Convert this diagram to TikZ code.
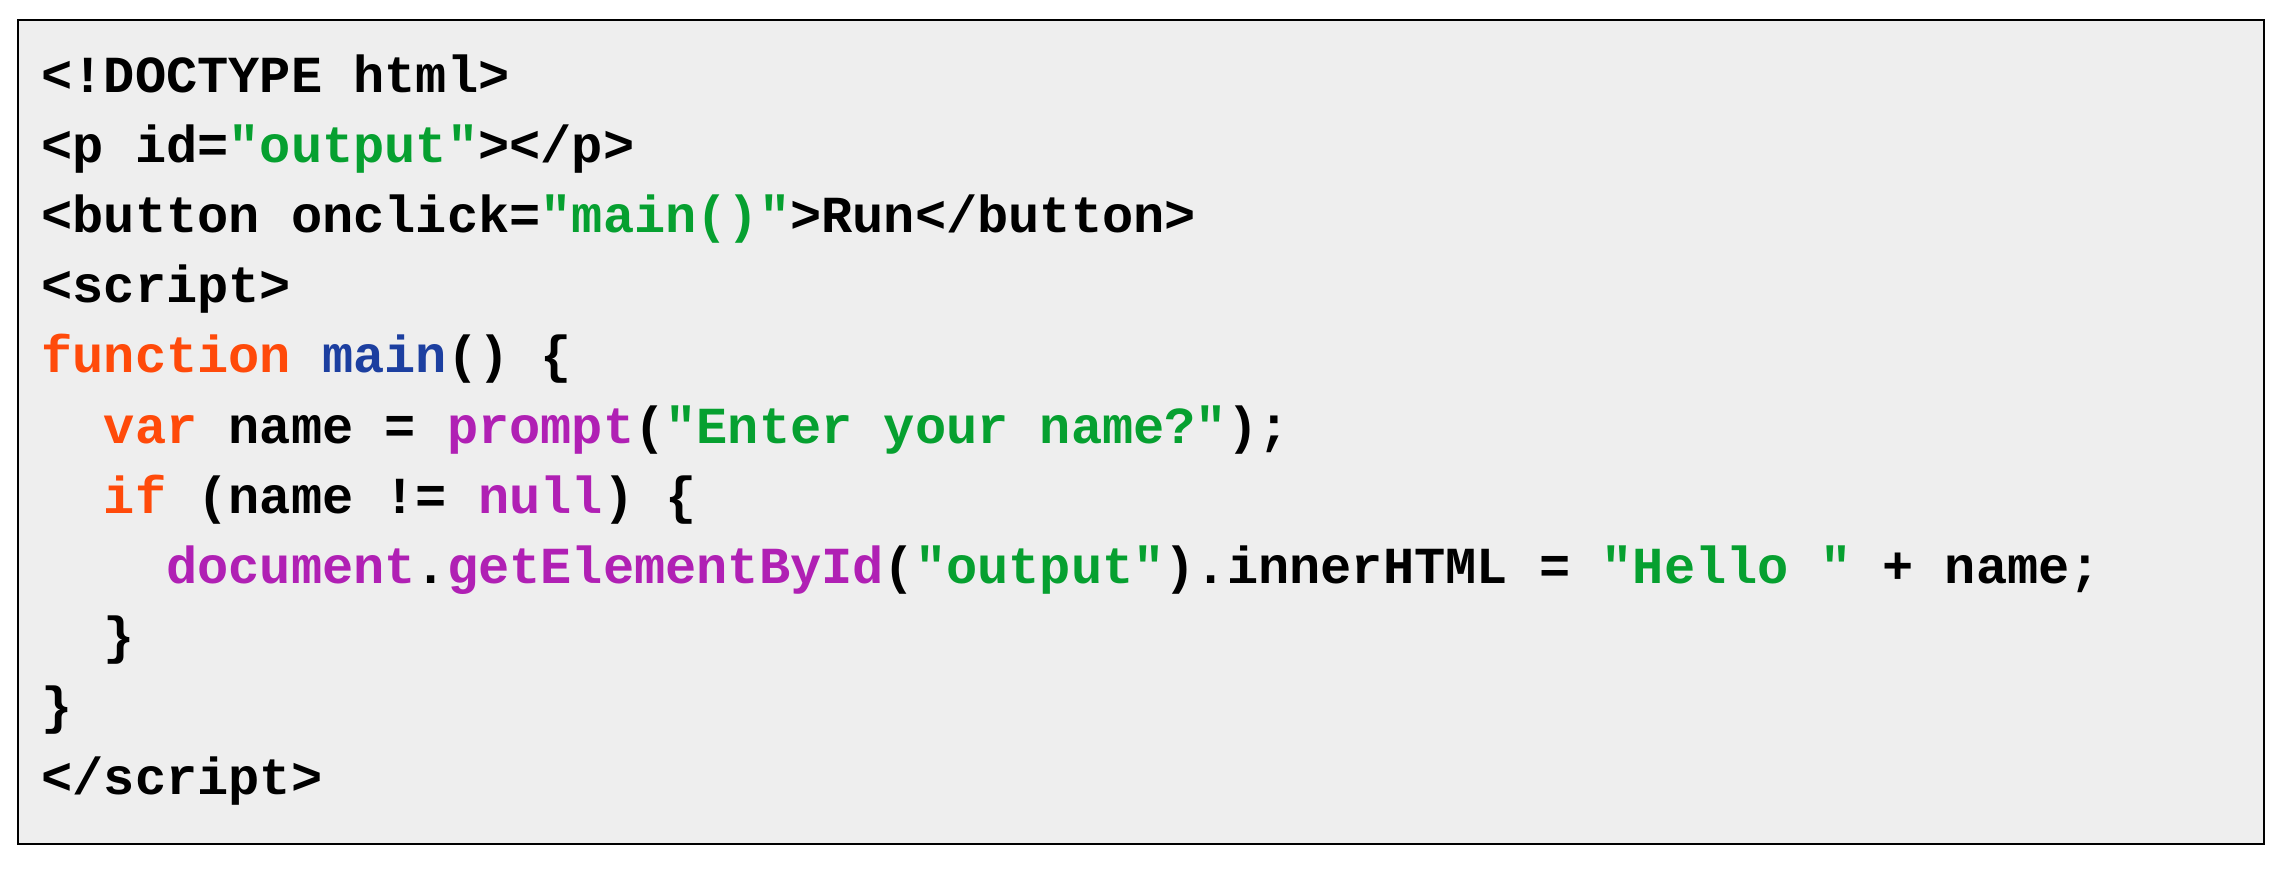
\documentclass[tikz,border=0pt]{standalone}
\usepackage{fontspec}
\setmonofont{Liberation Mono}
\definecolor{kwc}{HTML}{FF4A0A}
\definecolor{fnc}{HTML}{1C3FA0}
\definecolor{prc}{HTML}{B020B4}
\definecolor{stc}{HTML}{06A030}
\definecolor{bgc}{HTML}{EEEEEE}
\newcommand\ckw[1]{\textcolor{kwc}{#1}}
\newcommand\cfn[1]{\textcolor{fnc}{#1}}
\newcommand\cpr[1]{\textcolor{prc}{#1}}
\newcommand\cst[1]{\textcolor{stc}{#1}}
\tikzset{codeline/.style={anchor=base west,inner sep=0pt,font=\ttfamily\bfseries\fontsize{26}{30}\selectfont}}
\begin{document}
\begin{tikzpicture}[x=1pt,y=1pt]
\useasboundingbox (0,0) rectangle (1142,-434);
\draw[fill=bgc,line width=0.8pt] (9,-10) rectangle (1132,-422);
\def\lx{20.5}
\node[codeline] (l1) at (\lx,-46) {<!DOCTYPE html>};
\node[codeline] (l2) at (\lx,-81.1) {<p id=\cst{"output"}></p>};
\node[codeline] (l3) at (\lx,-116.2) {<button onclick=\cst{"main()"}>Run</button>};
\node[codeline] (l4) at (\lx,-151.3) {<script>};
\node[codeline] (l5) at (\lx,-186.4) {\ckw{function} \cfn{main}() \{};
\node[codeline] (l6) at (\lx,-221.5) {\phantom{xx}\ckw{var} name = \cpr{prompt}(\cst{"Enter your name?"});};
\node[codeline] (l7) at (\lx,-256.6) {\phantom{xx}\ckw{if} (name != \cpr{null}) \{};
\node[codeline] (l8) at (\lx,-291.7) {\phantom{xxxx}\cpr{document}.\cpr{getElementById}(\cst{"output"}).innerHTML = \cst{"Hello "} + name;};
\node[codeline] (l9) at (\lx,-326.8) {\phantom{xx}\}};
\node[codeline] (l10) at (\lx,-361.9) {\}};
\node[codeline] (l11) at (\lx,-397) {</script>};
\end{tikzpicture}
\end{document}
